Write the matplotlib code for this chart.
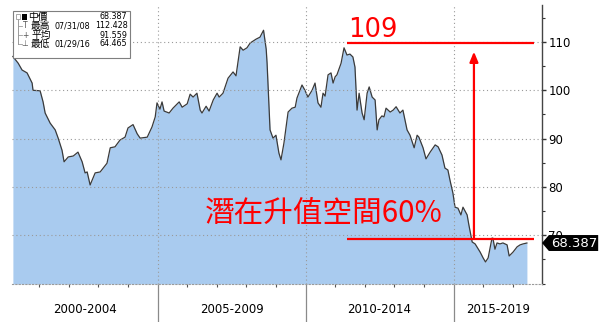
import matplotlib
matplotlib.use("Agg")
import matplotlib.pyplot as plt
from matplotlib.patches import Polygon, Rectangle
from matplotlib.lines import Line2D
import matplotlib.transforms as mtransforms

# ---------------- data ----------------
years = [
    2000.11, 2000.29, 2000.42, 2000.59, 2000.76, 2000.79, 2001.03, 2001.13, 2001.20, 2001.37,
    2001.54, 2001.64, 2001.77, 2001.84, 2001.98, 2002.15, 2002.31, 2002.45, 2002.55, 2002.62,
    2002.72, 2002.89, 2003.06, 2003.29, 2003.40, 2003.56, 2003.73, 2003.90, 2004.00, 2004.17,
    2004.31, 2004.41, 2004.65, 2004.81, 2004.92, 2004.98, 2005.08, 2005.15, 2005.22, 2005.39,
    2005.52, 2005.73, 2005.83, 2006.00, 2006.10, 2006.20, 2006.33, 2006.44, 2006.50, 2006.64,
    2006.74, 2006.88, 2007.01, 2007.08, 2007.21, 2007.38, 2007.55, 2007.65, 2007.79, 2007.89,
    2008.02, 2008.13, 2008.33, 2008.46, 2008.58, 2008.67, 2008.70, 2008.80, 2008.90, 2009.00,
    2009.10, 2009.17, 2009.27, 2009.41, 2009.54, 2009.65, 2009.71, 2009.88, 2009.98, 2010.08,
    2010.22, 2010.32, 2010.42, 2010.52, 2010.59, 2010.66, 2010.76, 2010.86, 2010.93, 2011.00,
    2011.06, 2011.20, 2011.30, 2011.40, 2011.50, 2011.60, 2011.67, 2011.74, 2011.81, 2011.91,
    2011.98, 2012.08, 2012.15, 2012.25, 2012.35, 2012.42, 2012.48, 2012.58, 2012.65, 2012.72,
    2012.86, 2012.96, 2013.06, 2013.19, 2013.29, 2013.43, 2013.53, 2013.67, 2013.77, 2013.83,
    2013.97, 2014.07, 2014.21, 2014.38, 2014.48, 2014.61, 2014.71, 2014.81, 2014.88, 2014.98,
    2015.05, 2015.15, 2015.25, 2015.32, 2015.46, 2015.52, 2015.63, 2015.73, 2015.79, 2015.90,
    2016.00, 2016.08, 2016.17, 2016.30, 2016.33, 2016.40, 2016.47, 2016.57, 2016.67, 2016.81,
    2016.88, 2017.01, 2017.15, 2017.25, 2017.35, 2017.48,
]
values = [
    107.0, 105.6, 104.2, 103.6, 101.5, 100.0, 99.9, 97.6, 95.3, 93.2,
    91.8, 90.1, 87.6, 85.2, 86.2, 86.4, 87.2, 85.2, 82.9, 83.1,
    80.4, 82.9, 83.1, 84.9, 88.1, 88.3, 89.7, 90.3, 92.2, 92.9,
    91.0, 90.1, 90.3, 92.4, 94.5, 97.4, 96.1, 97.6, 95.7, 95.3,
    96.3, 97.6, 96.5, 97.2, 99.2, 98.6, 99.4, 95.9, 95.3, 96.7,
    95.7, 98.0, 99.4, 98.6, 99.4, 102.5, 103.8, 103.0, 109.0, 108.3,
    108.8, 109.8, 110.6, 111.0, 112.43, 108.5, 105.6, 91.8, 90.1, 90.7,
    87.0, 85.6, 89.1, 95.5, 96.3, 96.5, 98.4, 101.1, 100.0, 98.6,
    100.0, 101.5, 97.4, 96.5, 99.4, 98.8, 103.2, 103.6, 101.5, 102.8,
    103.2, 105.6, 108.8, 107.3, 107.5, 106.9, 104.8, 95.9, 99.4, 95.3,
    93.9, 99.4, 100.7, 98.6, 98.0, 91.8, 93.9, 94.7, 94.5, 96.3,
    95.5, 95.9, 96.6, 95.3, 95.9, 91.8, 90.7, 88.1, 90.7, 90.3,
    88.1, 85.8, 87.2, 88.7, 88.3, 86.6, 83.9, 83.5, 81.4, 78.7,
    75.8, 75.6, 74.2, 75.8, 74.2, 72.1, 68.6, 68.2, 67.6, 66.5,
    65.3, 64.47, 65.3, 69.4, 69.4, 67.1, 68.4, 68.2, 68.4, 68.0,
    65.7, 66.5, 67.6, 68.0, 68.2, 68.387,
]

period_labels = ["2000-2004", "2005-2009", "2010-2014", "2015-2019"]
period_starts = [2000, 2005, 2010, 2015]
y_major = [70, 80, 90, 100, 110]
y_minor = [60, 65, 75, 85, 95, 105, 115]
last_value = 68.387
legend_syms = ["", "T", "+", "⊥"]
legend_names = ["中價", "最高", "平均", "最低"]
legend_dates = ["", "07/31/08", "", "01/29/16"]
legend_values = ["68.387", "112.428", "91.559", "64.465"]
target_level = 109.8
current_level = 69.24
arrow_x = 2015.69
line_x0, line_x1 = 2011.40, 2017.72
target_text = "109"
main_text = "潛在升值空間60%"

# ---------------- figure ----------------
W, H = 600, 322
fig = plt.figure(figsize=(W / 100, H / 100), dpi=100)
fig.patch.set_facecolor("white")

x0, x1 = 12, 542
y0, y1 = 5, 284
ax = fig.add_axes([x0 / W, 1 - y1 / H, (x1 - x0) / W, (y1 - y0) / H])
xlim = (2000.08, 2017.99)
ax.set_xlim(*xlim)
ax.set_ylim(59.9, 117.66)

fill_color = "#a9cbef"
ax.fill_between(years, values, 59.9, color=fill_color, lw=0, zorder=1)
ax.plot(years, values, color="#3a3a3a", lw=0.9, zorder=2)

# grid
for v in y_major:
    ax.axhline(v, color="#9a9a9a", lw=0.8, ls=(0, (1, 2.5)), zorder=2.5)
for s in period_starts[1:]:
    ax.axvline(s, color="#9a9a9a", lw=0.8, ls=(0, (1, 2.5)), zorder=2.5)

# spines
for side in ["top", "left"]:
    ax.spines[side].set_visible(False)
ax.spines["right"].set_color("#444444")
ax.spines["right"].set_linewidth(1.0)
ax.spines["bottom"].set_color("#9a9a9a")
ax.spines["bottom"].set_linestyle((0, (1, 2)))
ax.spines["bottom"].set_linewidth(0.8)

# y axis on right
ax.yaxis.tick_right()
ax.set_yticks(y_major)
ax.set_yticks(y_minor, minor=True)
ax.set_yticklabels([str(v) for v in y_major])
ax.tick_params(axis="y", which="major", direction="out", length=3, width=1,
               color="#333333", labelsize=8.5, pad=1.5, labelcolor="black")
ax.tick_params(axis="y", which="minor", direction="out", length=2.5, width=0.8,
               color="#333333")
ax.tick_params(axis="y", which="both", left=False)

# x axis: separators as long ticks, minor year ticks
ax.set_xticks(period_starts[1:])
ax.set_xticklabels([""] * 3)
ax.set_xticks([y for y in range(2001, 2018) if y not in period_starts], minor=True)
ax.tick_params(axis="x", which="major", direction="out", length=28, width=0.9,
               color="#8a8a8a")
ax.tick_params(axis="x", which="minor", direction="out", length=2.2, width=0.8,
               color="#555555")

bounds = [xlim[0]] + period_starts[1:] + [xlim[1]]
trans_xa = mtransforms.blended_transform_factory(ax.transData, ax.transAxes)
for lab, a, b in zip(period_labels, bounds[:-1], bounds[1:]):
    ax.text((a + b) / 2, -0.093, lab, transform=trans_xa, ha="center", va="center",
            fontsize=8.5, color="black")

# ---------------- red annotations ----------------
red = "#ff0000"
ax.plot([line_x0, line_x1], [target_level, target_level], color=red, lw=1.6,
        zorder=5, clip_on=False, solid_capstyle="butt")
ax.plot([line_x0, line_x1], [current_level, current_level], color=red, lw=1.6,
        zorder=5, clip_on=False, solid_capstyle="butt")
ax.annotate("", xy=(arrow_x, 108.0), xytext=(arrow_x, current_level),
            arrowprops=dict(arrowstyle="-|>,head_length=0.6,head_width=0.25",
                            color=red, lw=1.6, shrinkA=0, shrinkB=0), zorder=5)
ax.text(2011.45, 111.0, target_text, color=red, fontsize=18.5, ha="left",
        va="baseline", family=["DejaVu Sans"], zorder=6)
ax.text(2006.60, 72.76, main_text, color=red, fontsize=21.3, ha="left",
        va="baseline", family=["Noto Sans CJK TC", "DejaVu Sans"], zorder=6)

# ---------------- last value tag ----------------
trans_ad = mtransforms.blended_transform_factory(ax.transAxes, ax.transData)
hh = 1.65
tag = Polygon([(1.0, last_value), (1.013, last_value + hh), (1.106, last_value + hh),
               (1.106, last_value - hh), (1.013, last_value - hh)],
              closed=True, transform=trans_ad, facecolor="black", edgecolor="none",
              clip_on=False, zorder=10)
ax.add_patch(tag)
ax.text(1.061, last_value, f"{last_value:.3f}", transform=trans_ad, color="white",
        fontsize=9.5, ha="center", va="center", zorder=11, clip_on=False)

# ---------------- legend box (Bloomberg style) ----------------
def fx(px):
    return px / W


def fy(py):
    return 1 - py / H


box = Rectangle((fx(13), fy(58)), fx(130) - fx(13), fy(11) - fy(58),
                transform=fig.transFigure, facecolor="white", edgecolor="#7f7f7f",
                lw=0.8, zorder=20)
fig.add_artist(box)
row_y = [16.5, 26, 35, 44]
fig.add_artist(Line2D([fx(18), fx(18)], [fy(19), fy(row_y[-1])],
                      transform=fig.transFigure, color="#9a9a9a", lw=0.7, zorder=21))
cjk = ["Noto Sans CJK TC", "DejaVu Sans"]
for i in range(4):
    yy = fy(row_y[i])
    if i == 0:
        fig.add_artist(Rectangle((fx(16), fy(18.5)), fx(4), fy(14.5) - fy(18.5),
                                 transform=fig.transFigure, facecolor="white",
                                 edgecolor="#9a9a9a", lw=0.6, zorder=21))
        fig.add_artist(Rectangle((fx(21.5), fy(19.5)), fx(5.5), fy(14) - fy(19.5),
                                 transform=fig.transFigure, facecolor="black",
                                 edgecolor="none", zorder=21))
        fig.text(fx(28.5), yy, legend_names[i], fontsize=7, ha="left", va="center",
                 family=cjk, zorder=22)
    else:
        fig.add_artist(Line2D([fx(18), fx(22)], [yy, yy], transform=fig.transFigure,
                              color="#9a9a9a", lw=0.6, zorder=21))
        fig.text(fx(25), yy, legend_syms[i], fontsize=5.5, ha="center", va="center",
                 color="#555555", zorder=22)
        fig.text(fx(31), yy, legend_names[i], fontsize=7, ha="left", va="center",
                 family=cjk, zorder=22)
    if legend_dates[i]:
        fig.text(fx(55), yy, legend_dates[i], fontsize=5.8, ha="left", va="center",
                 zorder=22, family=["DejaVu Sans"])
    fig.text(fx(127.5), yy, legend_values[i], fontsize=5.8, ha="right", va="center",
             zorder=22, family=["DejaVu Sans"])

fig.savefig("out.png", dpi=100, facecolor="white")
